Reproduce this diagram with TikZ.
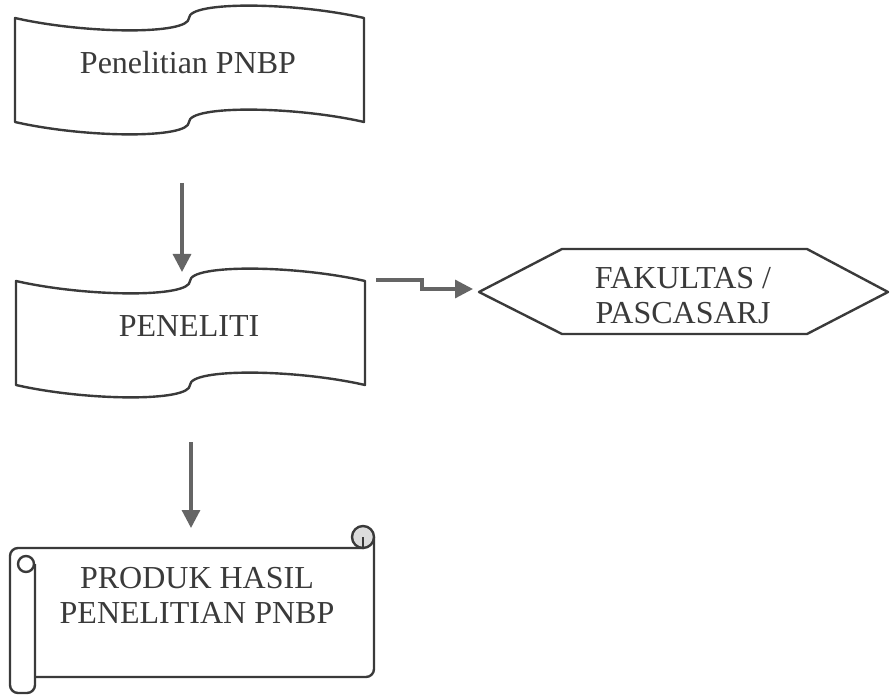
\documentclass[tikz,border=0pt]{standalone}
\usepackage{fontspec}
\setmainfont{Liberation Serif}
\usetikzlibrary{arrows.meta}
\definecolor{inkgray}{HTML}{3a3a3a}
\definecolor{arrowgray}{HTML}{656565}
\definecolor{curlgray}{HTML}{dcdcdc}
\tikzstyle{outline}=[draw=inkgray, line width=1.2pt, line join=round]
\tikzstyle{boxtext}=[font=\fontsize{16}{17.5}\selectfont, text=inkgray, align=center, inner sep=0]
\tikzstyle{flow}=[draw=arrowgray, line width=1.6pt, -{Triangle[length=9pt, width=9pt]}]

% wavy tape drawn round a text node
\newcommand{\tapeoutline}[1]{%
  \begin{scope}[shift={(#1.center)}]
    \draw [outline] (-173,-45) .. controls +(70,16) and +(0,17) .. (1,-45)
      .. controls +(0,-17) and +(-70,-16) .. (176,-45) -- (176,59)
      .. controls +(-70,-16) and +(0,-17) .. (1,59)
      .. controls +(0,17) and +(70,16) .. (-173,59) -- cycle;
  \end{scope}}

\begin{document}
\begin{tikzpicture}[x=0.5pt, y=-0.5pt]
\useasboundingbox (0,0) rectangle (894,695);

\node [boxtext] (pnbp) at (188, 63) {Penelitian PNBP};
\node [boxtext] (pen)  at (189,326) {PENELITI};
\node [boxtext] (fak)  at (683,296) {FAKULTAS /\\PASCASARJ};
\node [boxtext] (prod) at (197,595) {PRODUK HASIL\\PENELITIAN PNBP};

\tapeoutline{pnbp}
\tapeoutline{pen}

% hexagon
\begin{scope}[shift={(fak.center)}]
\draw [outline] (-204,-4) -- (-121,-47) -- (124,-47) -- (205,-4) -- (124,38) -- (-121,38) -- cycle;
\end{scope}

% scroll
\begin{scope}[shift={(prod.center)}]
\draw [outline, rounded corners=4pt] (-162,-31) -- (-162,98) -- (-187,98) -- (-187,-47) -- (167,-47);
\draw [outline] (-171,-31) circle [radius=8];
\draw [outline, rounded corners=4pt] (177,-58) -- (177,82) -- (-162,82);
\draw [outline, fill=curlgray] (166,-58) circle [radius=11];
\draw [outline] (166,-58) -- (166,-47);
\end{scope}

\draw [flow] ([shift={(-6,120)}]pnbp.center) -- ([shift={(-7,-54)}]pen.center);
\draw [flow] ([shift={(2,116)}]pen.center) -- ([shift={(-6,-67)}]prod.center);
\draw [flow] ([shift={(187,-46)}]pen.center) -- ++(46,0) |- ([shift={(-210,-7)}]fak.center);

\end{tikzpicture}
\end{document}
